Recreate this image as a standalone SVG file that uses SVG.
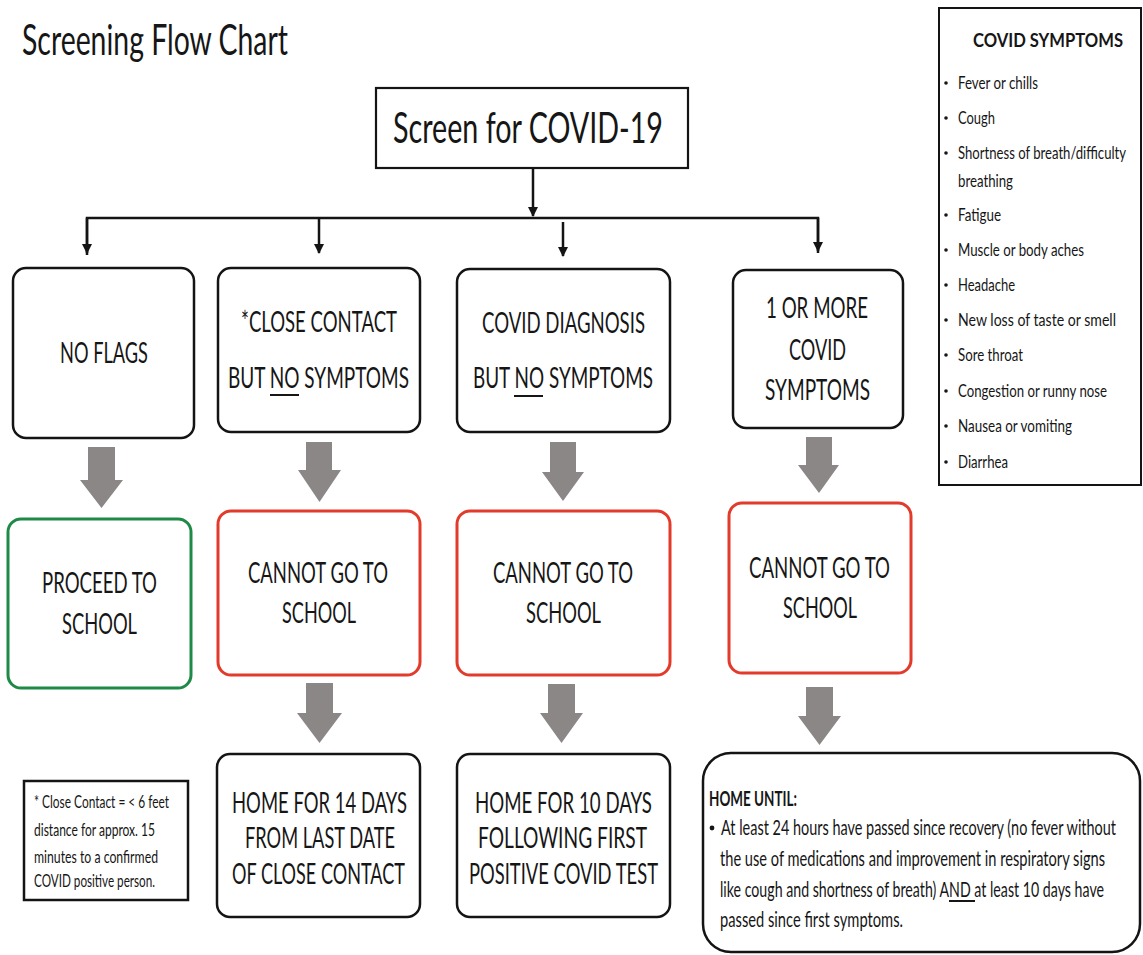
<svg xmlns="http://www.w3.org/2000/svg" width="1143" height="955" viewBox="0 0 1143 955">
<style>
.t{font-family:Lato,"Open Sans","Liberation Sans",sans-serif;fill:#161616}
.c{text-anchor:middle}
.b{font-weight:bold}
.box{fill:#fff;stroke:#141414;stroke-width:2.5}
.red{fill:#fff;stroke:#e23b2b;stroke-width:3}
.green{fill:#fff;stroke:#1f8a47;stroke-width:3}
.ln{stroke:#141414;stroke-width:2.5;fill:none}
.ga{fill:#8b8787}
.u{stroke:#161616;stroke-width:2}
.dot{fill:#161616}
</style>
<defs>
<marker id="ah" viewBox="0 0 10 10" refX="9" refY="5" markerWidth="4" markerHeight="4.6" orient="auto" markerUnits="strokeWidth">
<path d="M0,0 L10,5 L0,10 z" fill="#141414"/>
</marker>
</defs>
<rect width="1143" height="955" fill="#fff"/>

<text class="t" x="22" y="55" font-size="43" textLength="266" lengthAdjust="spacingAndGlyphs">Screening Flow Chart</text>

<g id="connectors">
<line class="ln" x1="533" y1="168" x2="533" y2="216" marker-end="url(#ah)"/>
<polyline class="ln" points="87,255 87,218 818,218 818,253"/>
<line class="ln" x1="87" y1="218" x2="87" y2="253" marker-end="url(#ah)"/>
<line class="ln" x1="319" y1="218" x2="319" y2="253" marker-end="url(#ah)"/>
<line class="ln" x1="563" y1="222" x2="563" y2="256" marker-end="url(#ah)"/>
<line class="ln" x1="818" y1="218" x2="818" y2="251" marker-end="url(#ah)"/>
<polygon class="ga" points="88,447 115,447 115,480 123,480 101.5,508 80,480 88,480"/>
<polygon class="ga" points="306,442 332,442 332,470 341,470 319.5,502 298,470 306,470"/>
<polygon class="ga" points="550,442 576,442 576,472 584,472 563,501 542,472 550,472"/>
<polygon class="ga" points="806,437 832,437 832,465 839,465 819,493 798,465 806,465"/>
<polygon class="ga" points="306,683 333,683 333,713 342,713 319.5,743 297,713 306,713"/>
<polygon class="ga" points="548,684 575,684 575,713 583,713 561.5,743 540,713 548,713"/>
<polygon class="ga" points="806,687 833,687 833,716 841,716 819.5,745 798,716 806,716"/>
</g>

<g id="screen">
<rect x="376" y="88" width="312" height="80" fill="#fff" stroke="#141414" stroke-width="2.2"/>
<text class="t c" x="528" y="143" font-size="43" textLength="270" lengthAdjust="spacingAndGlyphs">Screen for COVID-19</text>
</g>

<g id="noflags">
<rect class="box" x="13" y="268" width="181" height="170" rx="13"/>
<text class="t c" x="104" y="363" font-size="29" textLength="88" lengthAdjust="spacingAndGlyphs">NO FLAGS</text>
</g>

<g id="closecontact">
<rect class="box" x="218" y="268" width="202" height="164" rx="13"/>
<text class="t c" x="319" y="332" font-size="29" textLength="156" lengthAdjust="spacingAndGlyphs">*CLOSE CONTACT</text>
<text class="t c" x="318.5" y="388" font-size="29" textLength="181" lengthAdjust="spacingAndGlyphs">BUT NO SYMPTOMS</text>
<line class="u" x1="270" y1="395" x2="299" y2="395"/>
</g>

<g id="diagnosis">
<rect class="box" x="457" y="269" width="213" height="163" rx="13"/>
<text class="t c" x="563.5" y="333" font-size="29" textLength="163" lengthAdjust="spacingAndGlyphs">COVID DIAGNOSIS</text>
<text class="t c" x="563" y="388" font-size="29" textLength="180" lengthAdjust="spacingAndGlyphs">BUT NO SYMPTOMS</text>
<line class="u" x1="514" y1="396" x2="543" y2="396"/>
</g>

<g id="symptoms1">
<rect class="box" x="733" y="270" width="170" height="158" rx="13"/>
<text class="t c" x="817" y="318" font-size="28" textLength="102" lengthAdjust="spacingAndGlyphs">1 OR MORE</text>
<text class="t c" x="817.5" y="360" font-size="28" textLength="57" lengthAdjust="spacingAndGlyphs">COVID</text>
<text class="t c" x="817.5" y="400" font-size="28" textLength="105" lengthAdjust="spacingAndGlyphs">SYMPTOMS</text>
</g>

<g id="proceed">
<rect class="green" x="8" y="519" width="183" height="169" rx="13"/>
<text class="t c" x="99.5" y="593" font-size="28" textLength="115" lengthAdjust="spacingAndGlyphs">PROCEED TO</text>
<text class="t c" x="99.5" y="634" font-size="28" textLength="75" lengthAdjust="spacingAndGlyphs">SCHOOL</text>
</g>

<g id="cannot2">
<rect class="red" x="218" y="511" width="202" height="164" rx="13"/>
<text class="t c" x="318" y="583" font-size="28" textLength="140" lengthAdjust="spacingAndGlyphs">CANNOT GO TO</text>
<text class="t c" x="319" y="623" font-size="28" textLength="74" lengthAdjust="spacingAndGlyphs">SCHOOL</text>
</g>

<g id="cannot3">
<rect class="red" x="457" y="511" width="213" height="164" rx="13"/>
<text class="t c" x="563" y="583" font-size="28" textLength="140" lengthAdjust="spacingAndGlyphs">CANNOT GO TO</text>
<text class="t c" x="563.5" y="623" font-size="28" textLength="75" lengthAdjust="spacingAndGlyphs">SCHOOL</text>
</g>

<g id="cannot4">
<rect class="red" x="729" y="503" width="182" height="170" rx="13"/>
<text class="t c" x="819.5" y="578" font-size="28" textLength="141" lengthAdjust="spacingAndGlyphs">CANNOT GO TO</text>
<text class="t c" x="820" y="618" font-size="28" textLength="74" lengthAdjust="spacingAndGlyphs">SCHOOL</text>
</g>

<g id="home14">
<rect class="box" x="217" y="754" width="203" height="163" rx="13"/>
<text class="t c" x="319.5" y="813" font-size="28.5" textLength="175" lengthAdjust="spacingAndGlyphs">HOME FOR 14 DAYS</text>
<text class="t c" x="320" y="848" font-size="28.5" textLength="150" lengthAdjust="spacingAndGlyphs">FROM LAST DATE</text>
<text class="t c" x="318.5" y="884" font-size="28.5" textLength="173" lengthAdjust="spacingAndGlyphs">OF CLOSE CONTACT</text>
</g>

<g id="home10">
<rect class="box" x="457" y="754" width="213" height="163" rx="13"/>
<text class="t c" x="563.5" y="813" font-size="28.5" textLength="177" lengthAdjust="spacingAndGlyphs">HOME FOR 10 DAYS</text>
<text class="t c" x="562.5" y="848" font-size="28.5" textLength="169" lengthAdjust="spacingAndGlyphs">FOLLOWING FIRST</text>
<text class="t c" x="563.5" y="884" font-size="28.5" textLength="189" lengthAdjust="spacingAndGlyphs">POSITIVE COVID TEST</text>
</g>

<g id="homeuntil">
<rect class="box" x="703" y="753" width="437" height="199" rx="28"/>
<text class="t b" x="709" y="806" font-size="21" textLength="88" lengthAdjust="spacingAndGlyphs">HOME UNTIL:</text>
<circle class="dot" cx="712" cy="828" r="2.4"/>
<text class="t" x="721" y="835" font-size="20.5" textLength="395" lengthAdjust="spacingAndGlyphs">At least 24 hours have passed since recovery (no fever without</text>
<text class="t" x="720" y="866" font-size="20.5" textLength="385" lengthAdjust="spacingAndGlyphs">the use of medications and improvement in respiratory signs</text>
<text class="t" x="720" y="897" font-size="20.5" textLength="384" lengthAdjust="spacingAndGlyphs">like cough and shortness of breath) AND at least 10 days have</text>
<text class="t" x="720" y="927" font-size="20.5" textLength="183" lengthAdjust="spacingAndGlyphs">passed since first symptoms.</text>
<line class="u" x1="949" y1="901" x2="975" y2="901" stroke-width="1.6"/>
</g>

<g id="footnote">
<rect x="24" y="781" width="164" height="119" fill="#fff" stroke="#141414" stroke-width="2.5"/>
<text class="t" x="34" y="808" font-size="18" textLength="135" lengthAdjust="spacingAndGlyphs">* Close Contact = &lt; 6 feet</text>
<text class="t" x="34" y="836" font-size="18" textLength="121" lengthAdjust="spacingAndGlyphs">distance for approx. 15</text>
<text class="t" x="34" y="863" font-size="18" textLength="124" lengthAdjust="spacingAndGlyphs">minutes to a confirmed</text>
<text class="t" x="34" y="887" font-size="18" textLength="121" lengthAdjust="spacingAndGlyphs">COVID positive person.</text>
</g>

<g id="symptomlist">
<rect x="939" y="8" width="202" height="477" fill="#fff" stroke="#141414" stroke-width="2"/>
<text class="t c b" x="1048" y="47" font-size="19" textLength="150" lengthAdjust="spacingAndGlyphs">COVID SYMPTOMS</text>
<g class="dot">
<circle cx="946" cy="83" r="1.8"/>
<circle cx="946" cy="118" r="1.8"/>
<circle cx="946" cy="153" r="1.8"/>
<circle cx="946" cy="215" r="1.8"/>
<circle cx="946" cy="250" r="1.8"/>
<circle cx="946" cy="285" r="1.8"/>
<circle cx="946" cy="320" r="1.8"/>
<circle cx="946" cy="355" r="1.8"/>
<circle cx="946" cy="391" r="1.8"/>
<circle cx="946" cy="426" r="1.8"/>
<circle cx="946" cy="462" r="1.8"/>
</g>
<g class="t" font-size="17.5">
<text x="958" y="89" textLength="80" lengthAdjust="spacingAndGlyphs">Fever or chills</text>
<text x="958" y="124" textLength="37" lengthAdjust="spacingAndGlyphs">Cough</text>
<text x="958" y="159" textLength="168" lengthAdjust="spacingAndGlyphs">Shortness of breath/difficulty</text>
<text x="958" y="187" textLength="55" lengthAdjust="spacingAndGlyphs">breathing</text>
<text x="958" y="221" textLength="43" lengthAdjust="spacingAndGlyphs">Fatigue</text>
<text x="958" y="256" textLength="126" lengthAdjust="spacingAndGlyphs">Muscle or body aches</text>
<text x="958" y="291" textLength="57" lengthAdjust="spacingAndGlyphs">Headache</text>
<text x="958" y="326" textLength="158" lengthAdjust="spacingAndGlyphs">New loss of taste or smell</text>
<text x="958" y="361" textLength="65" lengthAdjust="spacingAndGlyphs">Sore throat</text>
<text x="958" y="397" textLength="149" lengthAdjust="spacingAndGlyphs">Congestion or runny nose</text>
<text x="958" y="432" textLength="114" lengthAdjust="spacingAndGlyphs">Nausea or vomiting</text>
<text x="958" y="468" textLength="50" lengthAdjust="spacingAndGlyphs">Diarrhea</text>
</g>
</g>
</svg>
